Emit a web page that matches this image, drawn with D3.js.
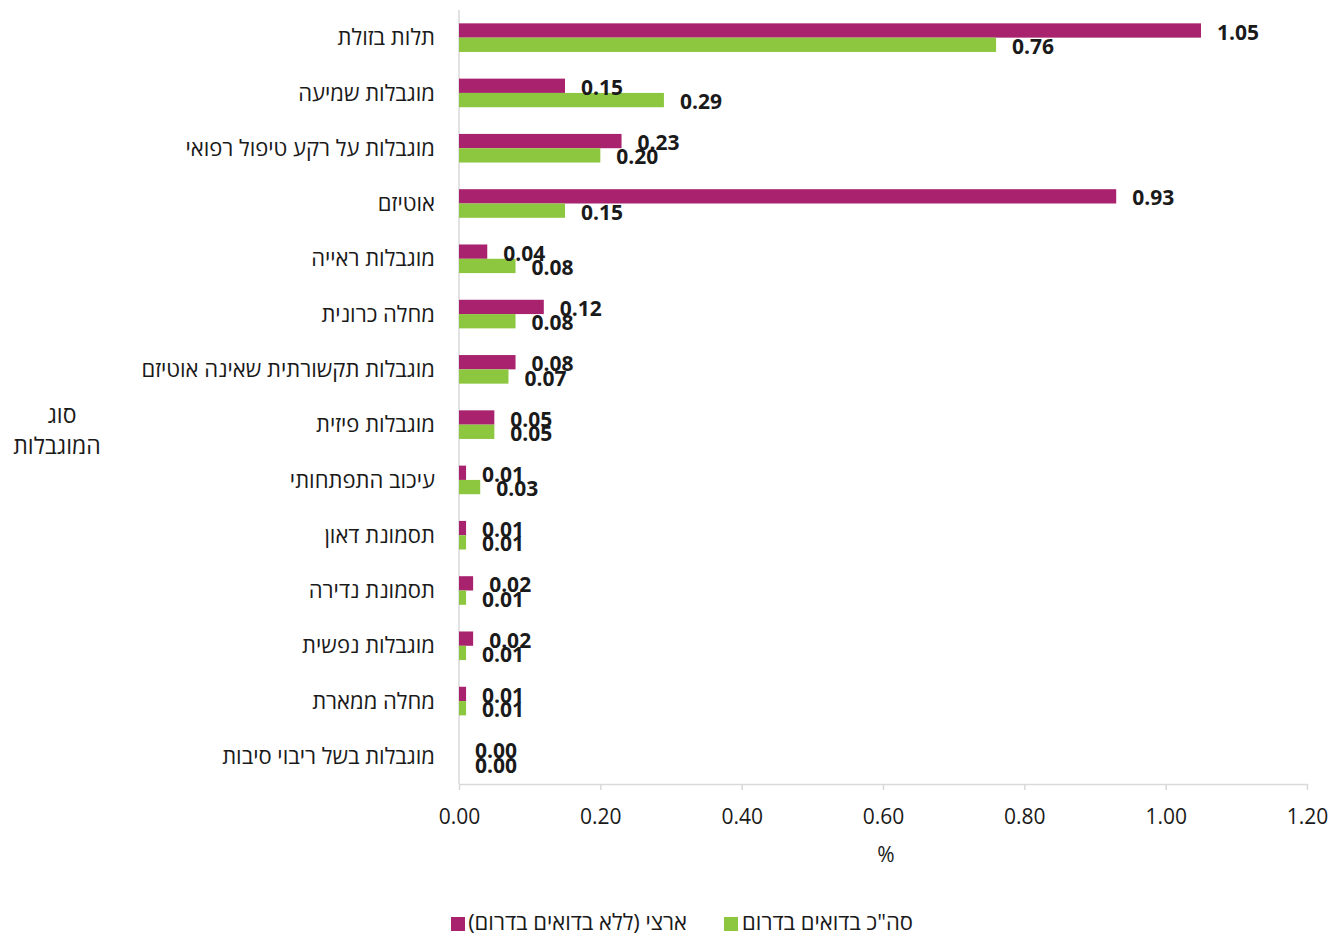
<!DOCTYPE html>
<html lang="he">
<head>
<meta charset="utf-8">
<script src="https://cdn.jsdelivr.net/npm/d3@7"></script>
<style>
  html, body { margin: 0; padding: 0; background: #fff; }
  svg { display: block; }
  text { font-family: "Open Sans", "Liberation Sans", "DejaVu Sans", sans-serif; fill: #1a1a1a; }
</style>
</head>
<body>
<svg id="chart" width="1332" height="936"></svg>
<script>
// Disability types (top to bottom)
const categories = [
  "תלות בזולת",
  "מוגבלות שמיעה",
  "מוגבלות על רקע טיפול רפואי",
  "אוטיזם",
  "מוגבלות ראייה",
  "מחלה כרונית",
  "מוגבלות תקשורתית שאינה אוטיזם",
  "מוגבלות פיזית",
  "עיכוב התפתחותי",
  "תסמונת דאון",
  "תסמונת נדירה",
  "מוגבלות נפשית",
  "מחלה ממארת",
  "מוגבלות בשל ריבוי סיבות"
];

// National rate (excluding Bedouins in the south), %
const national = [1.05, 0.15, 0.23, 0.93, 0.04, 0.12, 0.08, 0.05, 0.01, 0.01, 0.02, 0.02, 0.01, 0.00];
// Bedouins in the south, %
const bedouin = [0.76, 0.29, 0.20, 0.15, 0.08, 0.08, 0.07, 0.05, 0.03, 0.01, 0.01, 0.01, 0.01, 0.00];

const seriesNames = ["ארצי (ללא בדואים בדרום)", "סה\"כ בדואים בדרום"];
const xTicks = [0, 0.2, 0.4, 0.6, 0.8, 1.0, 1.2];
const axisTitleY = ["סוג", "המוגבלות"];
const axisTitleX = "%";

const colors = { national: "#A8226E", bedouin: "#8DC63F" };

const svg = d3.select("#chart");
const plot = { left: 459, right: 1307, top: 10, bottom: 784 };

const x = d3.scaleLinear().domain([0, 1.2]).range([plot.left, plot.right]);
const y = d3.scaleBand().domain(categories).range([plot.top, plot.bottom]).padding(0);
const sub = d3.scaleBand().domain(["national", "bedouin"]).range([0, y.bandwidth()])
  .paddingInner(0).paddingOuter(0.933);

const rows = categories.map((c, i) => ({ cat: c, national: national[i], bedouin: bedouin[i] }));

// Axis lines
svg.append("line")
  .attr("x1", plot.left).attr("x2", plot.left)
  .attr("y1", plot.top).attr("y2", plot.bottom)
  .attr("stroke", "#d9d9d9").attr("stroke-width", 1.5);

const xAxis = d3.axisBottom(x).tickValues(xTicks).tickFormat(d3.format(".2f"))
  .tickSizeInner(6).tickSizeOuter(0).tickPadding(19);
const gx = svg.append("g").attr("transform", `translate(0,${plot.bottom})`).call(xAxis);
gx.select(".domain").attr("stroke", "#d9d9d9").attr("stroke-width", 1.5);
gx.selectAll(".tick line").attr("stroke", "#d9d9d9").attr("stroke-width", 1.5);
gx.selectAll(".tick text").attr("font-size", 21).attr("fill", "#1a1a1a")
  .style("font-family", "\"Open Sans\", \"Liberation Sans\", sans-serif");

// Bars
["national", "bedouin"].forEach(key => {
  svg.append("g").selectAll("rect").data(rows).join("rect")
    .attr("x", x(0))
    .attr("y", d => y(d.cat) + sub(key))
    .attr("width", d => x(d[key]) - x(0))
    .attr("height", sub.bandwidth())
    .attr("fill", colors[key]);
});

// Value labels
["national", "bedouin"].forEach(key => {
  svg.append("g").selectAll("text").data(rows).join("text")
    .attr("x", d => x(d[key]) + 16)
    .attr("y", d => y(d.cat) + sub(key) + sub.bandwidth() / 2 + 1.5)
    .attr("dy", "0.36em")
    .attr("font-size", 21)
    .attr("font-weight", "bold")
    .attr("fill", "#000")
    .text(d => d3.format(".2f")(d[key]));
});

// Category labels
svg.append("g").selectAll("text").data(categories).join("text")
  .attr("direction", "rtl")
  .attr("text-anchor", "start")
  .attr("x", 435)
  .attr("y", d => y(d) + y.bandwidth() / 2)
  .attr("dy", "0.35em")
  .attr("font-size", 22)
  .text(d => d);

// Y axis title (two lines)
const titleX = [62, 57];
svg.append("g").selectAll("text").data(axisTitleY).join("text")
  .attr("direction", "rtl")
  .attr("text-anchor", "middle")
  .attr("x", (d, i) => titleX[i])
  .attr("y", (d, i) => 415 + i * 31)
  .attr("dy", "0.35em")
  .attr("font-size", 23)
  .text(d => d);

// X axis title
svg.append("text")
  .attr("text-anchor", "middle")
  .attr("x", (plot.left + plot.right) / 2 + 3).attr("y", 855).attr("dy", "0.35em")
  .attr("font-size", 21)
  .text(axisTitleX);

// Legend
const legend = [
  { key: "national", name: seriesNames[0], sq: 451, textRight: 687 },
  { key: "bedouin", name: seriesNames[1], sq: 724, textRight: 913 }
];
const lg = svg.append("g");
legend.forEach(l => {
  lg.append("rect").attr("x", l.sq).attr("y", 917).attr("width", 14).attr("height", 14)
    .attr("fill", colors[l.key]);
  lg.append("text")
    .attr("direction", "rtl")
    .attr("text-anchor", "start")
    .attr("x", l.textRight).attr("y", 922).attr("dy", "0.35em")
    .attr("font-size", 22)
    .text(l.name);
});
</script>
</body>
</html>
